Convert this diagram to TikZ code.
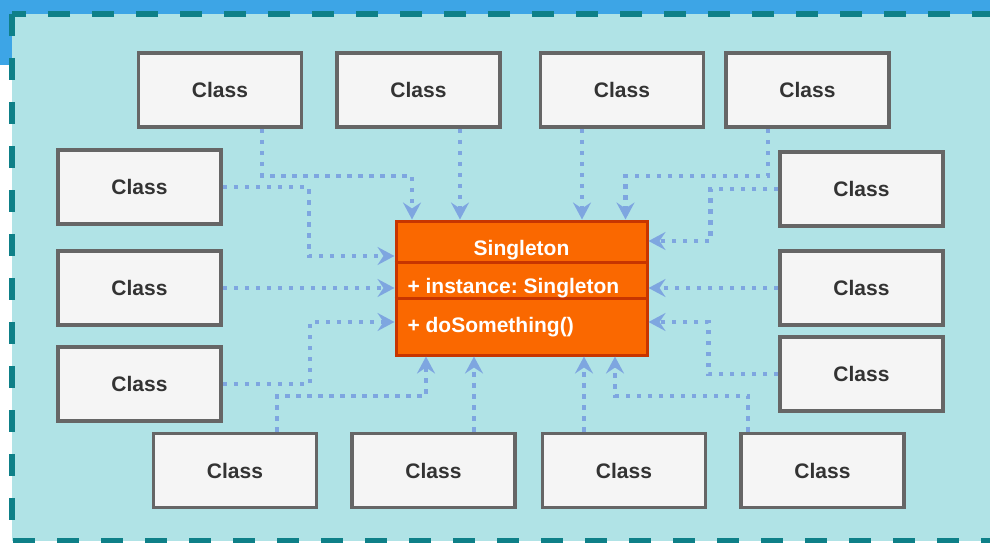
\documentclass[tikz,border=0pt]{standalone}
\usepackage{fontspec}
\setmainfont{Liberation Sans}
\usetikzlibrary{arrows.meta}
\definecolor{bgcyan}{HTML}{B0E3E6}
\definecolor{frameteal}{HTML}{0E8088}
\definecolor{topblue}{HTML}{3DA5E6}
\definecolor{clsfill}{HTML}{F5F5F5}
\definecolor{clsline}{HTML}{666666}
\definecolor{clstext}{HTML}{333333}
\definecolor{sgfill}{HTML}{FA6800}
\definecolor{sgline}{HTML}{C73500}
\definecolor{linkblue}{HTML}{7EA6E0}
\tikzset{>={Stealth[length=17pt 0,width=18pt 0,inset=6pt 0]}}
\frenchspacing

\begin{document}
\begin{tikzpicture}[x=1pt, y=-1pt, font=\bfseries\fontsize{21}{25}\selectfont,
    cls/.style = {draw=clsline, fill=clsfill, line width=3.5pt, minimum width=163pt, minimum height=74pt, text=clstext},
    link/.style = {->, draw=linkblue, line width=4.5pt, dash pattern=on 4.5pt off 6.5pt}]
      \useasboundingbox (0,0) rectangle (990,543);
      \fill[white] (0,0) rectangle (990,543);
      \fill[topblue] (0,0) rectangle (990,14);
      \fill[topblue] (0,0) rectangle (13,65);
      \draw[frameteal, fill=bgcyan, line width=6pt, dash pattern=on 22pt off 22pt] (12,14) rectangle (1010,541);

      % the singleton
      \node[draw=sgline, fill=sgfill, line width=3pt, minimum width=251pt, minimum height=134pt] (sg) at (521.5,288) {};
      \draw[sgline, line width=3pt] ([yshift=26pt]sg.west) -- ([yshift=26pt]sg.east);
      \draw[sgline, line width=3pt] ([yshift=-10pt]sg.west) -- ([yshift=-10pt]sg.east);
      \node[text=white, anchor=base] (sg_name) at (521.5,255) {Singleton};
      \node[text=white, anchor=base west] (sg_attr) at (404,293) {+ instance: Singleton};
      \node[text=white, anchor=base west] (sg_op) at (404,332) {+ doSomething()};

      % clients
      \node[cls] (top_a) at (220,90) {Class};
      \node[cls] (top_b) at (418.5,90) {Class};
      \node[cls] (top_c) at (622,90) {Class};
      \node[cls] (top_d) at (807.5,90) {Class};
      \node[cls] (left_a) at (139.5,187) {Class};
      \node[cls] (left_b) at (139.5,288) {Class};
      \node[cls] (left_c) at (139.5,384) {Class};
      \node[cls] (right_a) at (861.5,189) {Class};
      \node[cls] (right_b) at (861.5,288) {Class};
      \node[cls] (right_c) at (861.5,374) {Class};
      \node[cls] (bottom_a) at (235,470.5) {Class};
      \node[cls] (bottom_b) at (433.5,470.5) {Class};
      \node[cls] (bottom_c) at (624,470.5) {Class};
      \node[cls] (bottom_d) at (822.5,470.5) {Class};

      \draw[link] ([xshift=42pt]top_a.south) -- ++(0,47) -| ([xshift=-109.5pt]sg.north);
      \draw[link] ([xshift=41.5pt]top_b.south) -- ([xshift=41.5pt]top_b.south |- sg.north);
      \draw[link] ([xshift=-40pt]top_c.south) -- ([xshift=-40pt]top_c.south |- sg.north);
      \draw[link] ([xshift=-39.5pt]top_d.south) -- ++(0,47) -| ([xshift=104pt]sg.north);
      \draw[link] (left_a.east) -- ++(86,0) |- ([yshift=32pt]sg.west);
      \draw[link] (left_b.east) -- (sg.west);
      \draw[link] (left_c.east) -- ++(87,0) |- ([yshift=-34pt]sg.west);
      \draw[link] (right_a.west) -- ++(-68,0) |- ([yshift=47pt]sg.east);
      \draw[link] (right_b.west) -- (sg.east);
      \draw[link] (right_c.west) -- ++(-70,0) |- ([yshift=-34pt]sg.east);
      \draw[link] ([xshift=42pt]bottom_a.north) -- ++(0,-36) -| ([xshift=-95.5pt]sg.south);
      \draw[link] ([xshift=40.5pt]bottom_b.north) -- ([xshift=40.5pt]bottom_b.north |- sg.south);
      \draw[link] ([xshift=-40pt]bottom_c.north) -- ([xshift=-40pt]bottom_c.north |- sg.south);
      \draw[link] ([xshift=-74.5pt]bottom_d.north) -- ++(0,-36) -| ([xshift=93.5pt]sg.south);
    \end{tikzpicture}
\end{document}
